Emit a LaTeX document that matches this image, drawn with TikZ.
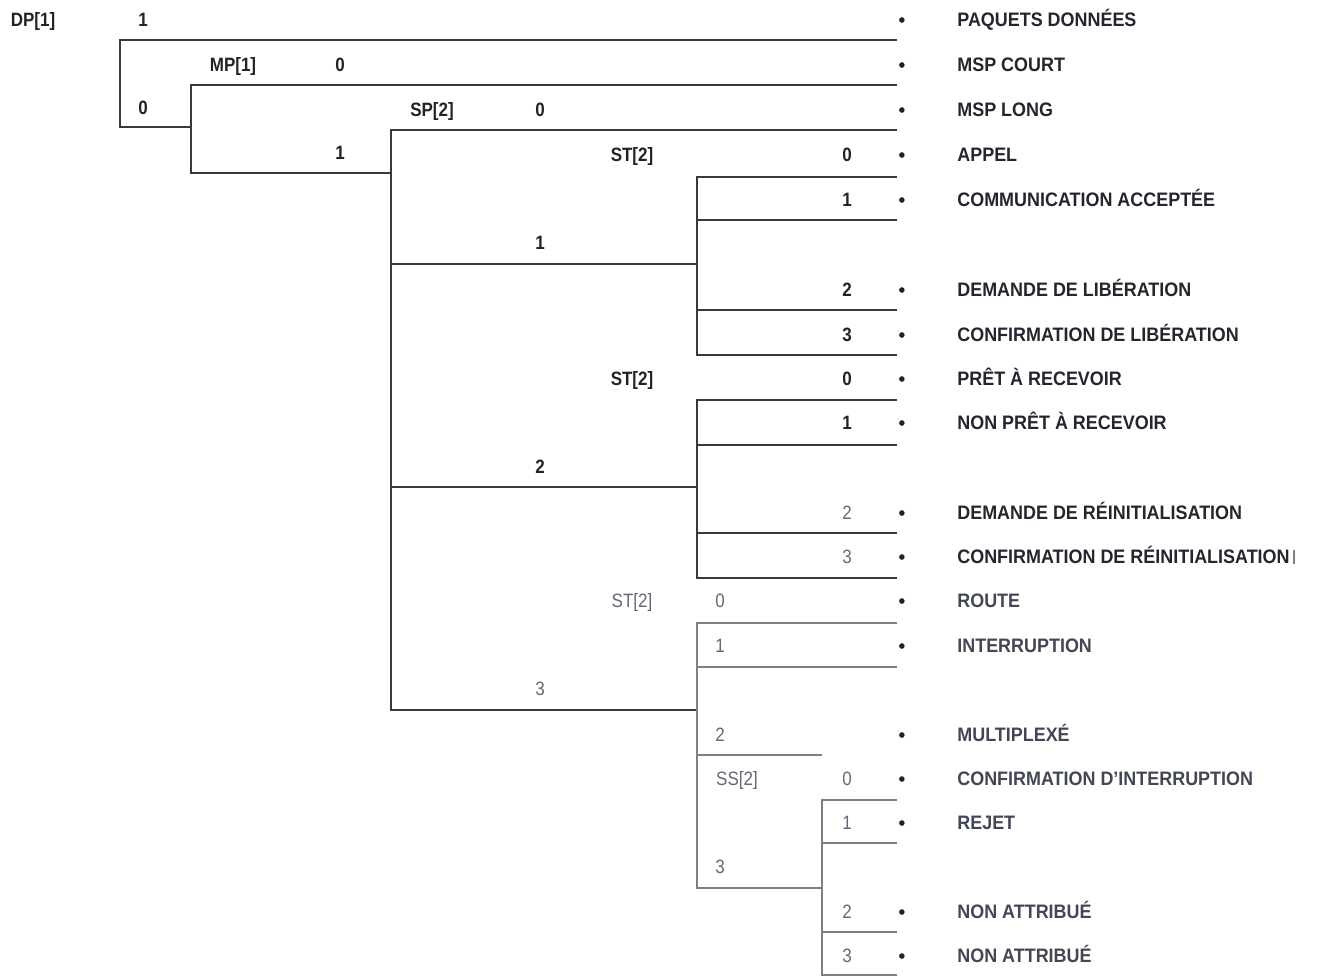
\documentclass[tikz,border=0pt]{standalone}
\usepackage{fontspec}
\setmainfont{Liberation Sans}
\newfontfamily\msgfont[FakeStretch=0.92]{Liberation Sans}
\newfontfamily\fieldfont[FakeStretch=0.88]{Liberation Sans}
\usepackage{xcolor}
\usepackage{tikz}
\definecolor{treeline}{HTML}{3A3A3A}
\definecolor{paleline}{HTML}{7E7E84}
\definecolor{darktext}{HTML}{222229}
\definecolor{greytext}{HTML}{646878}
\definecolor{msgtext}{HTML}{25252F}
\definecolor{msglower}{HTML}{424655}

\begin{document}
\begin{tikzpicture}[
  x=0.02cm,y=-0.02cm,
  field/.style={inner sep=0pt,text height=7.9pt,text depth=0pt,text=darktext,
    font=\fieldfont\bfseries\fontsize{11}{13}\selectfont},
  fieldlight/.style={field,text=greytext,font=\fieldfont\fontsize{11}{13}\selectfont},
  msg/.style={anchor=west,inner sep=0pt,text height=7.9pt,text depth=0pt,text=msgtext,
    font=\msgfont\bfseries\fontsize{11.1}{13}\selectfont,
    label={[circle,fill=darktext,inner sep=0pt,minimum size=3.2pt,label distance=1.04cm]left:{}}},
  msglight/.style={msg,text=msglower},
  wire/.style={draw=treeline,line width=1pt},
  palewire/.style={draw=paleline,line width=0.9pt},
]
\useasboundingbox (0,0) rectangle (1317,977);

% field labels
\node[field] (dp) at (33,20) {DP[1]};
\node[field] (dp1) at (143,20) {1};
\node[field] (dp0) at (143,108) {0};
\node[field] (mp) at (233,65) {MP[1]};
\node[field] (mp0) at (340,65) {0};
\node[field] (mp1) at (340,153) {1};
\node[field] (sp) at (432,110) {SP[2]};
\node[field] (sp0) at (540,110) {0};
\node[field] (sp1) at (540,243) {1};
\node[field] (sp2) at (540,467) {2};
\node[fieldlight] (sp3) at (540,689) {3};

\node[field] (sta) at (632,155) {ST[2]};
\node[field] (sta0) at (847,155) {0};
\node[field] (sta1) at (847,200) {1};
\node[field] (sta2) at (847,290) {2};
\node[field] (sta3) at (847,335) {3};

\node[field] (stb) at (632,379) {ST[2]};
\node[field] (stb0) at (847,379) {0};
\node[field] (stb1) at (847,423) {1};
\node[fieldlight] (stb2) at (847,513) {2};
\node[fieldlight] (stb3) at (847,557) {3};

\node[fieldlight] (stc) at (632,601) {ST[2]};
\node[fieldlight] (stc0) at (720,601) {0};
\node[fieldlight] (stc1) at (720,646) {1};
\node[fieldlight] (stc2) at (720,735) {2};
\node[fieldlight] (stc3) at (720,867) {3};

\node[fieldlight] (ss) at (737,779) {SS[2]};
\node[fieldlight] (ss0) at (847,779) {0};
\node[fieldlight] (ss1) at (847,823) {1};
\node[fieldlight] (ss2) at (847,912) {2};
\node[fieldlight] (ss3) at (847,956) {3};

% packet types
\node[msg] (paquets) at (957,20) {PAQUETS DONNÉES};
\node[msg] (mspcourt) at (957,65) {MSP COURT};
\node[msg] (msplong) at (957,110) {MSP LONG};
\node[msg] (appel) at (957,155) {APPEL};
\node[msg] (accept) at (957,200) {COMMUNICATION ACCEPTÉE};
\node[msg] (demlib) at (957,290) {DEMANDE DE LIBÉRATION};
\node[msg] (conflib) at (957,335) {CONFIRMATION DE LIBÉRATION};
\node[msg] (pret) at (957,379) {PRÊT À RECEVOIR};
\node[msg] (nonpret) at (957,423) {NON PRÊT À RECEVOIR};
\node[msg] (demreinit) at (957,513) {DEMANDE DE RÉINITIALISATION};
\node[msg] (confreinit) at (957,557)
  {CONFIRMATION DE RÉINITIALISATION\,\textcolor{paleline}{\rule{1.1pt}{7.9pt}}};
\node[msglight] (route) at (957,601) {ROUTE};
\node[msglight] (interrupt) at (957,646) {INTERRUPTION};
\node[msglight] (multiplex) at (957,735) {MULTIPLEXÉ};
\node[msglight] (confint) at (957,779) {CONFIRMATION D’INTERRUPTION};
\node[msglight] (rejet) at (957,823) {REJET};
\node[msglight] (nonattra) at (957,912) {NON ATTRIBUÉ};
\node[msglight] (nonattrb) at (957,956) {NON ATTRIBUÉ};

% tree
\draw[wire] (897,40) -| (120,127) -- (191,127);
\draw[wire] (897,85) -| (191,173) -- (391,173);
\draw[wire] (897,130) -| (391,710) -- (697,710);
\draw[wire] (391,264) -- (697,264);
\draw[wire] (391,487) -- (697,487);

\draw[wire] (897,177) -| (697,355) -- (897,355);
\draw[wire] (697,220) -- (897,220);
\draw[wire] (697,310) -- (897,310);

\draw[wire] (897,400) -| (697,578) -- (897,578);
\draw[wire] (697,445) -- (897,445);
\draw[wire] (697,533) -- (897,533);

\draw[palewire] (897,623) -| (697,888) -- (822,888);
\draw[palewire] (697,667) -- (897,667);
\draw[palewire] (697,755) -- (822,755);

\draw[palewire] (897,800) -| (822,975) -- (897,975);
\draw[palewire] (822,843) -- (897,843);
\draw[palewire] (822,932) -- (897,932);
\end{tikzpicture}
\end{document}
